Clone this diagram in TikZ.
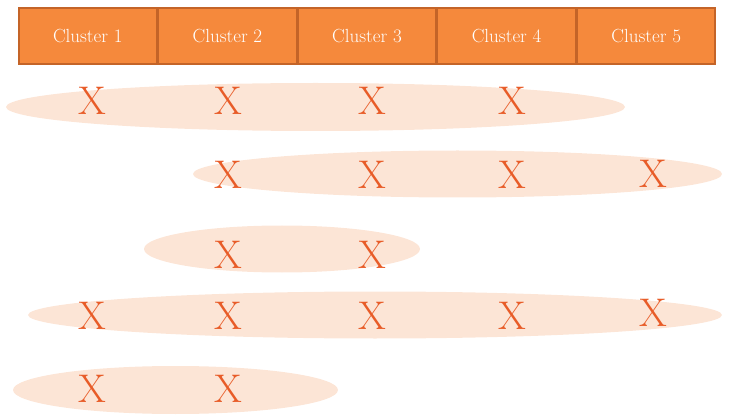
\documentclass[tikz,border=0pt]{standalone}
\usepackage{xcolor}
\usepackage{tikz}
\usetikzlibrary{positioning, shapes.geometric}
\definecolor{clu_orange}{RGB}{245, 137, 60}
\definecolor{clu_edge}{RGB}{196, 100, 40}
\definecolor{clu_mark}{RGB}{232, 92, 40}
\definecolor{clu_blob}{RGB}{252, 229, 214}
\tikzset{
  clusterbox/.style={draw=clu_edge, fill=clu_orange, line width=1.6pt,
    minimum width=138pt, minimum height=56.4pt, inner sep=0pt,
    text=white, font=\fontsize{19}{22}\selectfont},
  groupblob/.style={ellipse, fill=clu_blob, inner sep=0pt},
  markx/.style={text=clu_mark, inner sep=0pt, font=\fontsize{40}{44}\selectfont}
}
\begin{document}
\begin{tikzpicture}[x=1pt, y=-1pt]
  \useasboundingbox (0,0) rectangle (729,417);
  % En-tete des clusters
  \node[clusterbox] (c1) at (87.8,36) {Cluster 1};
  \node[clusterbox, right=0pt of c1] (c2) {Cluster 2};
  \node[clusterbox, right=0pt of c2] (c3) {Cluster 3};
  \node[clusterbox, right=0pt of c3] (c4) {Cluster 4};
  \node[clusterbox, right=0pt of c4] (c5) {Cluster 5};
  % Groupes
  \node[groupblob, minimum width=619pt, minimum height=48pt] (g1) at (315.5,107) {};
  \node[groupblob, minimum width=529pt, minimum height=47pt] (g2) at (457.5,174) {};
  \node[groupblob, minimum width=276pt, minimum height=47pt] (g3) at (282,249) {};
  \node[groupblob, minimum width=694pt, minimum height=47pt] (g4) at (375,315) {};
  \node[groupblob, minimum width=325pt, minimum height=48pt] (g5) at (175.5,390) {};
  % Marques
  \foreach \cx/\cy [count=\i] in {92/101, 228/101, 372/101, 512/101,
      228/175, 372/175, 512/175, 653/174,
      228/255, 372/255,
      92/316, 228/316, 372/316, 512/316, 653/313,
      92/389, 228/389}
    \node[markx] (x\i) at (\cx,\cy) {X};
\end{tikzpicture}
\end{document}
